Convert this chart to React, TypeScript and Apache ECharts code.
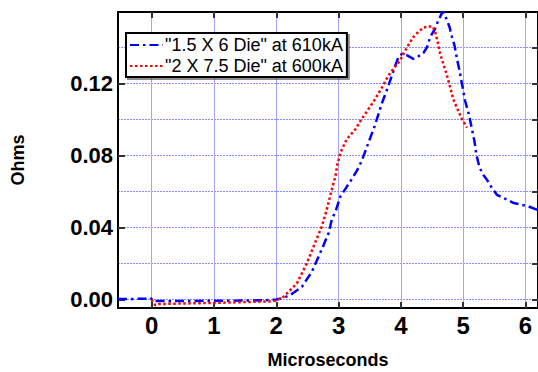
import React, { useEffect, useRef } from "react";
import * as echarts from "echarts";

const blueName = '"1.5 X 6 Die" at 610kA';
const redName = '"2 X 7.5 Die" at 600kA';

const blueX = [-0.54, -0.3, -0.1, -0.02, 0.03, 0.3, 0.6, 1.0, 1.4, 1.8, 2.0, 2.1, 2.22, 2.41, 2.57, 2.69, 2.76, 2.84, 2.89, 2.96, 3.03, 3.12, 3.19, 3.29, 3.37, 3.44, 3.51, 3.58, 3.64, 3.69, 3.8, 3.9, 3.96, 4.02, 4.1, 4.2, 4.26, 4.36, 4.42, 4.47, 4.55, 4.59, 4.66, 4.68, 4.74, 4.78, 4.82, 4.86, 4.9, 4.94, 4.98, 5.03, 5.09, 5.14, 5.18, 5.21, 5.25, 5.3, 5.38, 5.46, 5.54, 5.65, 5.81, 5.94, 6.05, 6.18, 6.2];
const blueY = [0.0003, 0.0003, 0.0005, 0.001, -0.0008, -0.0009, -0.0008, -0.0007, -0.0006, -0.0004, 0.0, 0.0008, 0.0024, 0.007, 0.0154, 0.0247, 0.0303, 0.0369, 0.0443, 0.0499, 0.0573, 0.062, 0.0657, 0.0713, 0.0769, 0.0834, 0.09, 0.0964, 0.103, 0.1085, 0.1188, 0.129, 0.1347, 0.1365, 0.1356, 0.1337, 0.1346, 0.1369, 0.1402, 0.1458, 0.1505, 0.1542, 0.1592, 0.1598, 0.1551, 0.1514, 0.1458, 0.1411, 0.1337, 0.1272, 0.1197, 0.1104, 0.103, 0.0946, 0.088, 0.0806, 0.075, 0.0703, 0.0666, 0.062, 0.0582, 0.0564, 0.0536, 0.0526, 0.0517, 0.0499, 0.0497];

const redX = [0.0, 0.03, 0.06, 0.12, 0.25, 0.5, 0.8, 1.0, 1.3, 1.6, 1.9, 2.0, 2.115, 2.33, 2.49, 2.62, 2.73, 2.81, 2.89, 2.95, 2.98, 3.03, 3.13, 3.27, 3.37, 3.48, 3.57, 3.7, 3.8, 3.9, 3.99, 4.1, 4.2, 4.28, 4.36, 4.44, 4.51, 4.55, 4.59, 4.63, 4.68, 4.74, 4.79, 4.84, 4.91, 4.98, 5.06];
const redY = [0.0, -0.002, -0.0032, -0.0025, -0.0024, -0.0022, -0.002, -0.0019, -0.0016, -0.0013, -0.001, -0.0006, 0.0015, 0.0089, 0.0201, 0.0313, 0.0406, 0.0499, 0.061, 0.0685, 0.075, 0.0816, 0.089, 0.0946, 0.1002, 0.1058, 0.1104, 0.118, 0.1244, 0.129, 0.133, 0.1402, 0.1458, 0.1486, 0.151, 0.1517, 0.1517, 0.1486, 0.143, 0.1365, 0.1309, 0.1244, 0.1179, 0.1113, 0.1057, 0.1002, 0.0955];

const xTicks = [0, 1, 2, 3, 4, 5, 6];
const yLabelTicks = [0, 0.04, 0.08, 0.12];
const yGridTicks = [0, 0.02, 0.04, 0.06, 0.08, 0.1, 0.12, 0.14];

const FONT = "Liberation Sans, Arial, sans-serif";

export default function App() {
  const ref = useRef<HTMLDivElement>(null);
  useEffect(() => {
    if (!ref.current) return;
    const chart = echarts.init(ref.current, null, { renderer: "svg" });
    const xMin = -0.54, xMax = 6.2, yMin = -0.0047, yMax = 0.1597;
    chart.setOption({
      animation: false,
      backgroundColor: "#ffffff",
      grid: { left: 118, right: 0, top: 12, bottom: 64, containLabel: false, outerBoundsMode: "none" },
      legend: {
        orient: "vertical",
        left: 126,
        top: 33,
        itemWidth: 33,
        itemHeight: 10,
        itemGap: 3,
        padding: [3, 4, 2, 3],
        backgroundColor: "#ffffff",
        borderColor: "#000000",
        borderWidth: 2,
        shadowColor: "rgba(0,0,0,0.45)",
        shadowOffsetX: 2,
        shadowOffsetY: 2,
        shadowBlur: 0,
        itemStyle: { opacity: 0 },
        textStyle: { fontFamily: FONT, fontSize: 18, color: "#000", padding: [0, 0, 0, -3] },
        data: [blueName, redName],
      },
      xAxis: [
        {
          type: "value",
          min: xMin,
          max: xMax,
          position: "bottom",
          name: "Microseconds",
          nameLocation: "middle",
          nameGap: 43,
          nameTextStyle: { fontFamily: FONT, fontWeight: "bold", fontSize: 18, color: "#000", lineHeight: 18 },
          axisLine: { show: true, onZero: false, lineStyle: { color: "#000", width: 2 } },
          axisTick: { show: true, inside: true, length: 6, customValues: xTicks, lineStyle: { color: "#333", width: 2 } },
          axisLabel: { customValues: xTicks, margin: 5, fontFamily: FONT, fontWeight: "bold", fontSize: 24, color: "#000" },
          splitLine: { show: false },
        },
        {
          type: "value",
          min: xMin,
          max: xMax,
          position: "top",
          axisLine: { show: true, onZero: false, lineStyle: { color: "#000", width: 2 } },
          axisTick: { show: true, inside: true, length: 6, customValues: xTicks, lineStyle: { color: "#333", width: 2 } },
          axisLabel: { show: false },
          splitLine: { show: true, lineStyle: { color: "#a4a4ff", width: 1, type: "solid" } },
        },
      ],
      yAxis: [
        {
          type: "value",
          min: yMin,
          max: yMax,
          position: "left",
          name: "Ohms",
          nameLocation: "middle",
          nameRotate: 90,
          nameGap: 91,
          nameTextStyle: { fontFamily: FONT, fontWeight: "bold", fontSize: 18, color: "#000" },
          axisLine: { show: true, onZero: false, lineStyle: { color: "#000", width: 2 } },
          axisTick: { show: true, inside: true, length: 7, customValues: yLabelTicks, lineStyle: { color: "#333", width: 2 } },
          axisLabel: {
            customValues: yLabelTicks,
            margin: 5,
            fontFamily: FONT,
            fontWeight: "bold",
            fontSize: 22,
            color: "#000",
            formatter: (v: number) => v.toFixed(2),
          },
          splitLine: { show: false },
        },
        {
          type: "value",
          min: yMin,
          max: yMax,
          position: "right",
          axisLine: { show: true, onZero: false, lineStyle: { color: "#000", width: 2 } },
          axisTick: { show: true, inside: true, length: 6, customValues: yGridTicks, lineStyle: { color: "#333", width: 2 } },
          axisLabel: { show: false },
          splitLine: { show: true, lineStyle: { color: "#8c8cff", width: 1, type: [2, 1] } },
        },
      ],
      series: [
        {
          name: blueName,
          type: "line",
          xAxisIndex: 0,
          yAxisIndex: 0,
          symbol: "none",
          smooth: false,
          data: blueX.map((x, i) => [x, blueY[i]]),
          lineStyle: { color: "#0000ff", width: 2.5, type: [9, 4, 2.5, 4] },
          itemStyle: { color: "#0000ff" },
          z: 3,
        },
        {
          name: redName,
          type: "line",
          xAxisIndex: 0,
          yAxisIndex: 0,
          symbol: "none",
          smooth: false,
          data: redX.map((x, i) => [x, redY[i]]),
          lineStyle: { color: "#ff0000", width: 2.5, type: [2.5, 2.5] },
          itemStyle: { color: "#ff0000" },
          z: 4,
        },
      ],
    });
    return () => chart.dispose();
  }, []);
  return <div ref={ref} style={{ width: 538, height: 372, position: "absolute", left: 0, top: 0 }} />;
}
